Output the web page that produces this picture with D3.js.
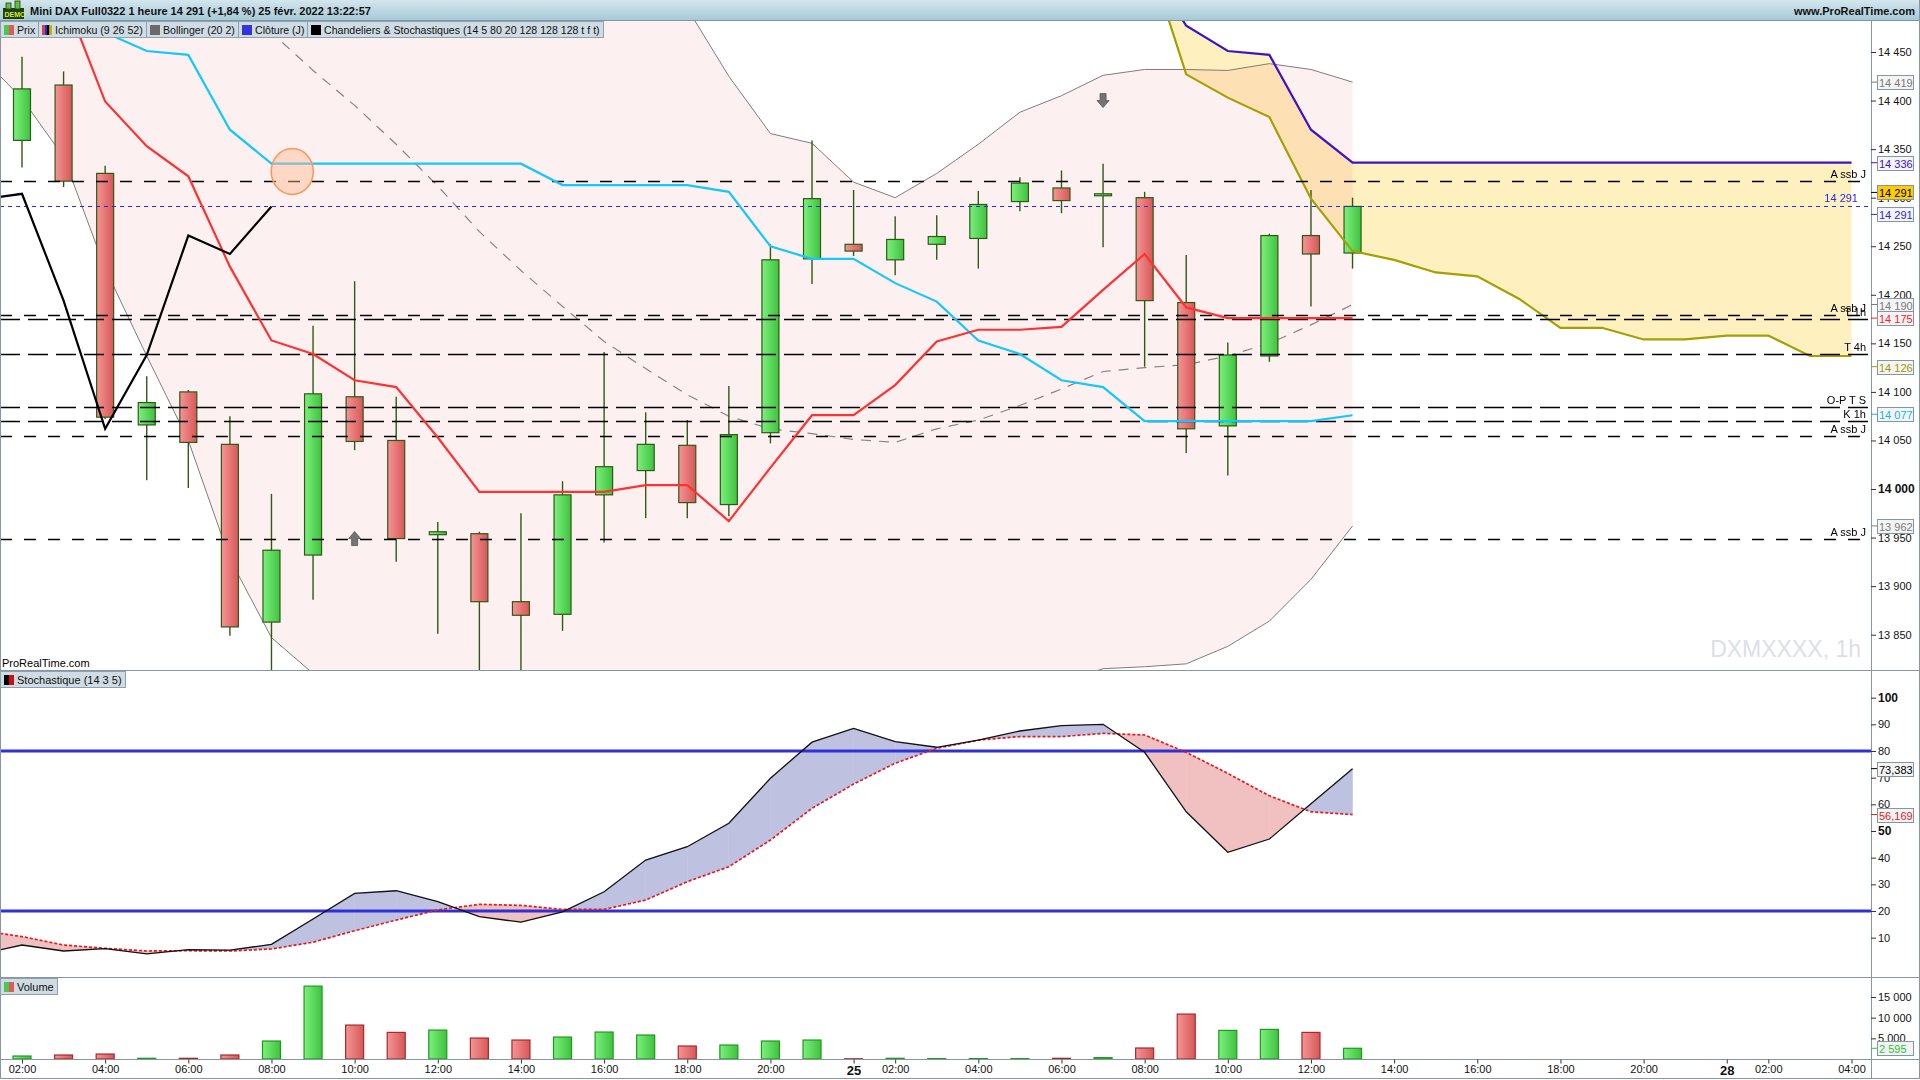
<!DOCTYPE html>
<html>
<head>
<meta charset="utf-8">
<script src="https://cdn.jsdelivr.net/npm/d3@7"></script>
<style>
  body { margin: 0; background: #fff; overflow: hidden; }
  text { font-family: "Liberation Sans", Arial, sans-serif; }
</style>
</head>
<body>
<script>
// hourly slots: index 0 = 24 feb 01:00 (off-screen), 33 = 25 feb 13:00 (last candle)
const hours = [
  "24", "02:00", "03:00", "04:00", "05:00", "06:00", "07:00", "08:00", "09:00", "10:00", "11:00",
  "12:00", "13:00", "14:00", "15:00", "16:00", "17:00", "18:00", "19:00", "20:00", "21:00",
  "25", "02:00", "03:00", "04:00", "05:00", "06:00", "07:00", "08:00", "09:00", "10:00", "11:00",
  "12:00", "13:00", "14:00", "15:00", "16:00", "17:00", "18:00", "19:00", "20:00", "21:00",
  "28", "02:00", "03:00", "04:00"
];

// candles (index 0 has no candle on screen)
const open  = [null, 14359, 14416, 14325, 14066, 14100, 14046, 13863, 13932, 14095, 14050, 13953, 13954, 13884, 13871, 13994, 14019, 14045, 13984, 14058, 14237, 14252, 14236, 14252, 14258, 14296, 14310, 14302, 14300, 14192, 14065, 14137, 14261, 14243];
const high  = [null, 14445, 14430, 14333, 14116, 14102, 14075, 13995, 14168, 14214, 14095, 13966, 13956, 13975, 14008, 14141, 14079, 14071, 14106, 14252, 14359, 14308, 14281, 14282, 14307, 14321, 14328, 14335, 14306, 14241, 14151, 14263, 14308, 14300];
const low   = [null, 14331, 14311, 14072, 14009, 14001, 13849, 13805, 13886, 14040, 13925, 13851, 13805, 13805, 13854, 13945, 13970, 13970, 13972, 14047, 14211, 14240, 14220, 14236, 14227, 14286, 14284, 14249, 14126, 14037, 14014, 14131, 14188, 14227];
const close = [null, 14412, 14317, 14074, 14089, 14048, 13858, 13937, 14098, 14049, 13949, 13956, 13884, 13870, 13994, 14023, 14046, 13986, 14056, 14236, 14299, 14245, 14257, 14260, 14293, 14315, 14297, 14304, 14194, 14062, 14138, 14261, 14242, 14291];
const volume = [null, 720, 970, 1200, 170, 170, 970, 4350, 17630, 8210, 6440, 7000, 5070, 4590, 5310, 6520, 5800, 3140, 3380, 4350, 4590, 50, 170, 100, 100, 100, 170, 330, 2660, 10870, 6920, 7160, 6440, 2595];

// Ichimoku (9 26 52)
const tenkan = [14540, 14509, 14399, 14353, 14322, 14229, 14153, 14139, 14112, 14105, 14053, 13997, 13997, 13997, 13997, 14004, 14004, 13967, 14022, 14076, 14076, 14107, 14152, 14164, 14164, 14167, 14205, 14242, 14187, 14176, 14176, 14176, 14176];
const tenkanFrom = 1;
const kijun = [14520, 14495, 14470, 14451, 14447, 14370, 14335, 14335, 14335, 14335, 14335, 14335, 14335, 14313, 14313, 14313, 14313, 14306, 14250, 14237, 14237, 14212, 14193, 14153, 14139, 14112, 14105, 14070, 14070, 14070, 14070, 14070, 14076];
const kijunFrom = 1;
const chikou = [14298, 14304, 14194, 14062, 14138, 14261, 14242, 14291];
const chikouFrom = 0;
const senkouA = [14560, 14427, 14403, 14383, 14299, 14245, 14236, 14223, 14219, 14196, 14166, 14166, 14154, 14154, 14158, 14158, 14137, 14137];
const senkouB = [14545, 14477, 14451, 14447, 14370, 14336, 14336, 14336, 14336, 14336, 14336, 14336, 14336, 14336, 14336, 14336, 14336, 14336];
const cloudFrom = 28;

// Bollinger (20 2)
const bbUpper = [14700, 14720, 14760, 14850, 14910, 14970, 15050, 15090, 15050, 15020, 14970, 14900, 14830, 14760, 14690, 14610, 14550, 14495, 14425, 14366, 14356, 14316, 14300, 14325, 14355, 14388, 14405, 14426, 14432, 14432, 14431, 14438, 14432, 14419];
const bbMid   = [14575, 14560, 14550, 14540, 14525, 14510, 14490, 14470, 14431, 14395, 14355, 14312, 14265, 14225, 14188, 14152, 14124, 14097, 14075, 14062, 14057, 14051, 14048, 14062, 14071, 14086, 14103, 14121, 14125, 14128, 14137, 14150, 14169, 14190];
const bbLower = [14446, 14402, 14342, 14227, 14137, 14050, 13928, 13847, 13810, 13770, 13740, 13720, 13700, 13690, 13690, 13695, 13700, 13700, 13725, 13758, 13758, 13786, 13796, 13799, 13787, 13784, 13801, 13815, 13817, 13820, 13838, 13864, 13907, 13962];

// Stochastique (14 3 5)
const stochK = [3.8, 7.25, 5.0, 5.9, 3.9, 5.5, 5.3, 7.5, 17.0, 26.6, 27.6, 23.5, 17.9, 15.8, 19.7, 27.2, 39.1, 44.1, 52.9, 69.8, 83.3, 88.5, 83.5, 81.4, 84.1, 87.5, 89.5, 90.0, 79.5, 57.2, 42.0, 47.0, 60.2, 73.383];
const stochD = [12.7, 10.4, 7.25, 6.0, 5.0, 5.1, 5.0, 5.75, 8.3, 12.6, 16.6, 20.4, 22.5, 22.1, 20.6, 20.6, 24.1, 31.0, 36.6, 46.6, 58.5, 67.6, 75.4, 81.0, 84.1, 85.4, 85.4, 86.6, 86.0, 79.5, 71.6, 63.2, 57.2, 56.169];

// horizontal levels
const levelNames  = ["A ssb J", "A ssb J", "T 1h", "T 4h", "O-P T S", "K 1h", "A ssb J", "A ssb J"];
const levelValues = [14317, 14179, 14175, 14139, 14084, 14070, 14055, 13949];
const dailyClose = 14291;

// signals
const signalHours  = [9, 27];
const signalPrices = [13949, 14400];
const signalDirs   = ["up", "down"];
const circleHour = 7.5, circlePrice = 14327;

const W = 1920, H = 1080;
const axisX = 1871;
const mainTop = 21, mainBot = 670, stTop = 671, stBot = 977, vTop = 978, vBot = 1059;

const loc = d3.formatLocale({decimal: ",", thousands: " ", grouping: [3], currency: ["", " €"]});
const fmtInt = loc.format(",d");
const fmt3 = loc.format(".3f");

const x = d3.scaleLinear().domain([1, 45]).range([22, 1851.5]);
const yP = d3.scaleLinear().domain([13850, 14450]).range([634.7, 52]);
const yS = d3.scaleLinear().domain([20, 80]).range([911, 751]);
const yV = d3.scaleLinear().domain([0, 15000]).range([1059, 997]);

const svg = d3.select("body").append("svg").attr("width", W).attr("height", H);
const defs = svg.append("defs");

function grad(id, c1, c2, vertical) {
  const g = defs.append("linearGradient").attr("id", id)
    .attr("x1", 0).attr("y1", 0).attr("x2", vertical ? 0 : 1).attr("y2", vertical ? 1 : 0);
  g.append("stop").attr("offset", "0%").attr("stop-color", c1);
  g.append("stop").attr("offset", "100%").attr("stop-color", c2);
}
grad("gUp", "#7cf07c", "#3fc23f");
grad("gDn", "#f69494", "#d65858");
grad("gHdr", "#d3e6ee", "#a6c8d6", true);

function clip(id, y0, y1) {
  defs.append("clipPath").attr("id", id).append("rect")
    .attr("x", 0).attr("y", y0).attr("width", axisX).attr("height", y1 - y0);
}
clip("cMain", mainTop, mainBot);
clip("cStoch", stTop, stBot);
clip("cVol", vTop, vBot);

const pts = (vals, from) => vals.map((v, i) => [from + i, v]).filter(d => d[1] != null);
const lineP = d3.line().x(d => x(d[0])).y(d => yP(d[1]));
const lineS = d3.line().x(d => x(d[0])).y(d => yS(d[1]));

// ---------- header ----------
svg.append("rect").attr("x", 0).attr("y", 0).attr("width", W).attr("height", mainTop).attr("fill", "url(#gHdr)");
svg.append("line").attr("x1", 0).attr("x2", W).attr("y1", mainTop - 0.5).attr("y2", mainTop - 0.5).attr("stroke", "#7d97a6");
const icon = svg.append("g");
icon.append("rect").attr("x", 3).attr("y", 8).attr("width", 21).attr("height", 11).attr("fill", "#22400f");
icon.append("rect").attr("x", 6).attr("y", 3).attr("width", 5).attr("height", 6).attr("fill", "#5fc23a").attr("stroke", "#22400f").attr("stroke-width", 0.8);
icon.append("rect").attr("x", 15).attr("y", 1).attr("width", 5).attr("height", 8).attr("fill", "#5fc23a").attr("stroke", "#22400f").attr("stroke-width", 0.8);
icon.append("text").attr("x", 4.5).attr("y", 17).attr("font-size", 7).attr("font-weight", "bold").attr("fill", "#d4ec3c").text("DEMO");
svg.append("text").attr("x", 30).attr("y", 15).attr("font-size", 11).attr("font-weight", "bold").attr("fill", "#111")
  .text("Mini DAX Full0322 1 heure 14 291 (+1,84 %) 25 févr. 2022 13:22:57");
svg.append("text").attr("x", 1915).attr("y", 15).attr("font-size", 11).attr("font-weight", "bold").attr("fill", "#111")
  .attr("text-anchor", "end").text("www.ProRealTime.com");

// ---------- main price panel ----------
const gm = svg.append("g").attr("clip-path", "url(#cMain)");

// Bollinger band fill
const bb = bbUpper.map((u, i) => ({k: i, hi: u, lo: bbLower[i]}));
gm.append("path").datum(bb).attr("fill", "#fdf0f0")
  .attr("d", d3.area().x(d => x(d.k)).y0(d => yP(d.lo)).y1(d => yP(d.hi)));

// Ichimoku cloud
const cloud = senkouA.map((a, i) => ({k: cloudFrom + i, a: a, b: senkouB[i]}));
gm.append("path").datum(cloud).attr("fill", "#fff0c0").style("mix-blend-mode", "multiply")
  .attr("d", d3.area().x(d => x(d.k)).y0(d => yP(d.a)).y1(d => yP(d.b)));

// Bollinger lines
gm.append("path").datum(pts(bbUpper, 0)).attr("d", lineP).attr("fill", "none").attr("stroke", "#7d7d7d").attr("stroke-width", 1);
gm.append("path").datum(pts(bbLower, 0)).attr("d", lineP).attr("fill", "none").attr("stroke", "#7d7d7d").attr("stroke-width", 1);
gm.append("path").datum(pts(bbMid, 0)).attr("d", lineP).attr("fill", "none").attr("stroke", "#858585").attr("stroke-width", 1.2).attr("stroke-dasharray", "10,8");

// candles
const cIdx = d3.range(0, close.length).filter(k => close[k] != null);
gm.selectAll("line.wick").data(cIdx).join("line").attr("class", "wick")
  .attr("x1", k => x(k)).attr("x2", k => x(k))
  .attr("y1", k => yP(high[k])).attr("y2", k => yP(low[k]))
  .attr("stroke", "#2e5a14").attr("stroke-width", 1.4);
gm.selectAll("rect.body").data(cIdx).join("rect").attr("class", "body")
  .attr("x", k => x(k) - 8.5).attr("width", 17)
  .attr("y", k => yP(Math.max(open[k], close[k])))
  .attr("height", k => Math.max(2, Math.abs(yP(open[k]) - yP(close[k]))))
  .attr("fill", k => close[k] >= open[k] ? "url(#gUp)" : "url(#gDn)")
  .attr("stroke", "#2e5a14").attr("stroke-width", 1.2);

// cloud edges
gm.append("path").datum(pts(senkouA, cloudFrom)).attr("d", lineP).attr("fill", "none").attr("stroke", "#a3a000").attr("stroke-width", 2.2);
gm.append("path").datum(pts(senkouB, cloudFrom)).attr("d", lineP).attr("fill", "none").attr("stroke", "#3a14c8").attr("stroke-width", 2.2);

// horizontal levels
levelNames.forEach((name, i) => {
  const y = Math.round(yP(levelValues[i])) + 0.5;
  gm.append("line").attr("x1", 0).attr("x2", name === "A ssb J" ? 1862 : axisX).attr("y1", y).attr("y2", y)
    .attr("stroke", "#000").attr("stroke-width", 1.3)
    .attr("stroke-dasharray", name === "A ssb J" ? "12,12" : "20,8");
  gm.append("text").attr("x", 1866).attr("y", y - 4).attr("text-anchor", "end")
    .attr("font-size", 11).attr("fill", "#000").text(name);
});
const yC = Math.round(yP(dailyClose)) + 0.5;
gm.append("line").attr("x1", 0).attr("x2", axisX).attr("y1", yC).attr("y2", yC)
  .attr("stroke", "#2a2ae0").attr("stroke-width", 1.2).attr("stroke-dasharray", "4,4");
gm.append("text").attr("x", 1858).attr("y", yC - 5).attr("text-anchor", "end")
  .attr("font-size", 11).attr("fill", "#2a2ae0").text(fmtInt(dailyClose));

// Ichimoku lines
gm.append("path").datum(pts(kijun, kijunFrom)).attr("d", lineP).attr("fill", "none").attr("stroke", "#12c8ff").attr("stroke-width", 2.2);
gm.append("path").datum(pts(tenkan, tenkanFrom)).attr("d", lineP).attr("fill", "none").attr("stroke", "#ff3232").attr("stroke-width", 2.2);
gm.append("path").datum(pts(chikou, chikouFrom)).attr("d", lineP).attr("fill", "none").attr("stroke", "#000").attr("stroke-width", 2.2);

// marker circle and arrows
gm.append("ellipse").attr("cx", x(circleHour)).attr("cy", yP(circlePrice)).attr("rx", 21).attr("ry", 23)
  .attr("fill", "#ffb890").attr("fill-opacity", 0.45).attr("stroke", "#ff9558").attr("stroke-width", 1.5);
signalHours.forEach((k, i) => {
  const s = signalDirs[i] === "up" ? 1 : -1;
  const cx = x(k), cy = yP(signalPrices[i]);
  const p = [[-6, 0], [0, -7], [6, 0], [3, 0], [3, 7], [-3, 7], [-3, 0]]
    .map(d => [cx + d[0], cy + s * d[1]]);
  gm.append("path").attr("d", d3.line()(p) + "Z").attr("fill", "#747474").attr("stroke", "#555").attr("stroke-width", 0.8);
});

svg.append("text").attr("x", 2).attr("y", 667).attr("font-size", 11).attr("fill", "#000").text("ProRealTime.com");
svg.append("text").attr("x", 1861).attr("y", 657).attr("text-anchor", "end").attr("font-size", 23)
  .attr("fill", "#dcdfe8").text("DXMXXXX, 1h");

// ---------- stochastic panel ----------
const gs = svg.append("g").attr("clip-path", "url(#cStoch)");
const polys = [];
for (let i = 0; i < stochK.length - 1; i++) {
  const a0 = stochK[i], a1 = stochK[i + 1], b0 = stochD[i], b1 = stochD[i + 1];
  const d0 = a0 - b0, d1 = a1 - b1;
  if (d0 * d1 >= 0) {
    polys.push({up: d0 + d1 >= 0, p: [[i, a0], [i + 1, a1], [i + 1, b1], [i, b0]]});
  } else {
    const t = d0 / (d0 - d1), vc = a0 + t * (a1 - a0);
    polys.push({up: d0 > 0, p: [[i, a0], [i + t, vc], [i, b0]]});
    polys.push({up: d1 > 0, p: [[i + t, vc], [i + 1, a1], [i + 1, b1]]});
  }
}
gs.selectAll("path.fill").data(polys).join("path").attr("class", "fill")
  .attr("d", d => lineS(d.p) + "Z").attr("fill", d => d.up ? "#bfc1e1" : "#f1c0c0")
  .attr("stroke", d => d.up ? "#bfc1e1" : "#f1c0c0").attr("stroke-width", 0.5);
[80, 20].forEach(v => {
  gs.append("line").attr("x1", 0).attr("x2", axisX).attr("y1", yS(v)).attr("y2", yS(v))
    .attr("stroke", "#3030d8").attr("stroke-width", 3);
});
gs.append("path").datum(pts(stochD, 0)).attr("d", lineS).attr("fill", "none")
  .attr("stroke", "#e01c1c").attr("stroke-width", 1.7).attr("stroke-dasharray", "3,2");
gs.append("path").datum(pts(stochK, 0)).attr("d", lineS).attr("fill", "none")
  .attr("stroke", "#111").attr("stroke-width", 1.3);

// ---------- volume panel ----------
const gv = svg.append("g").attr("clip-path", "url(#cVol)");
const vIdx = d3.range(0, volume.length).filter(k => volume[k] != null);
gv.selectAll("rect.vol").data(vIdx).join("rect").attr("class", "vol")
  .attr("x", k => x(k) - 9).attr("width", 18)
  .attr("y", k => yV(volume[k])).attr("height", k => Math.max(1, yV(0) - yV(volume[k])))
  .attr("fill", k => close[k] >= open[k] ? "url(#gUp)" : "url(#gDn)")
  .attr("stroke", k => close[k] >= open[k] ? "#1c9a1c" : "#a82828").attr("stroke-width", 1.2);

// ---------- frames ----------
const frame = "#8597a3";
[mainBot + 0.5, stBot + 0.5, vBot + 0.5, 1078.5].forEach(y => {
  svg.append("line").attr("x1", 0).attr("x2", W).attr("y1", y).attr("y2", y).attr("stroke", frame);
});
svg.append("line").attr("x1", axisX + 0.5).attr("x2", axisX + 0.5).attr("y1", mainTop).attr("y2", 1078)
  .attr("stroke", frame);
svg.append("line").attr("x1", 0.5).attr("x2", 0.5).attr("y1", mainTop).attr("y2", 1078).attr("stroke", frame);
svg.append("line").attr("x1", W - 0.5).attr("x2", W - 0.5).attr("y1", 0).attr("y2", 1078).attr("stroke", frame);

// ---------- axes ----------
function styleAxis(g, boldSet) {
  g.attr("font-family", "Liberation Sans, Arial, sans-serif").attr("font-size", 11);
  g.select(".domain").remove();
  g.selectAll(".tick line").attr("stroke", "#333");
  g.selectAll(".tick text").attr("fill", "#111")
    .attr("font-weight", d => boldSet.includes(d) ? "bold" : null)
    .attr("font-size", d => boldSet.includes(d) ? 12 : 11);
}
const ax1 = svg.append("g").attr("transform", `translate(${axisX},0)`)
  .call(d3.axisRight(yP).tickValues(d3.range(13850, 14451, 50)).tickSize(5).tickPadding(2).tickFormat(fmtInt));
styleAxis(ax1, [14000]);
const ax2 = svg.append("g").attr("transform", `translate(${axisX},0)`)
  .call(d3.axisRight(yS).tickValues(d3.range(10, 101, 10)).tickSize(5).tickPadding(2));
styleAxis(ax2, [50, 100]);
const ax3 = svg.append("g").attr("transform", `translate(${axisX},0)`)
  .call(d3.axisRight(yV).tickValues([5000, 10000, 15000]).tickSize(5).tickPadding(2).tickFormat(fmtInt));
styleAxis(ax3, []);
const tickIdx = d3.range(1, hours.length).filter(k => hours[k].length === 2 || (+hours[k].slice(0, 2)) % 2 === 0);
const ax4 = svg.append("g").attr("transform", `translate(0,${vBot + 0.5})`)
  .call(d3.axisBottom(x).tickValues(tickIdx).tickSize(4).tickPadding(2).tickFormat(k => hours[k]));
styleAxis(ax4, []);
ax4.selectAll(".tick text").filter(k => hours[k].length === 2).attr("font-weight", "bold").attr("font-size", 13);

// value tags on the right axis
function tag(y, text, color, fill) {
  svg.append("line").attr("x1", axisX).attr("x2", 1877).attr("y1", y).attr("y2", y).attr("stroke", color);
  svg.append("rect").attr("x", 1877.5).attr("y", Math.round(y) - 6.5).attr("width", 36).attr("height", 14)
    .attr("fill", fill).attr("stroke", "#8296a4");
  svg.append("text").attr("x", 1879).attr("y", Math.round(y) + 4.5).attr("font-size", 11).attr("fill", color).text(text);
}
tag(yP(bbUpper[33]), fmtInt(bbUpper[33]), "#7a7a7a", "#f4f4f4");
tag(yP(senkouB[senkouB.length - 1]), fmtInt(senkouB[senkouB.length - 1]), "#3a14c8", "#f4f4f4");
tag(yP(close[33]) - 14, fmtInt(close[33]), "#000", "#ffcc00");
tag(yP(dailyClose) + 8, fmtInt(dailyClose), "#2a2ae0", "#f4f4f4");
tag(yP(bbMid[33]), fmtInt(bbMid[33]), "#7a7a7a", "#f4f4f4");
tag(yP(tenkan[tenkan.length - 1]), fmtInt(14175), "#ff2020", "#f4f4f4");
tag(yP(14126), fmtInt(14126), "#9a9a00", "#f4f4f4");
tag(yP(14077), fmtInt(14077), "#10b4f0", "#f4f4f4");
tag(yP(bbLower[33]), fmtInt(bbLower[33]), "#7a7a7a", "#f4f4f4");
tag(yS(stochK[33]), fmt3(stochK[33]), "#000", "#f4f4f4");
tag(yS(stochD[33]), fmt3(stochD[33]), "#e01c1c", "#f4f4f4");
tag(yV(volume[33]), fmtInt(volume[33]), "#30c030", "#f4f4f4");

// ---------- legend boxes ----------
function legend(items, y0, fs) {
  let cx = 0;
  items.forEach(it => {
    const g = svg.append("g");
    const t = g.append("text").attr("x", cx + 17).attr("y", y0 + 12.5).attr("font-size", fs).attr("fill", "#111").text(it.label);
    const w = Math.round(t.node().getComputedTextLength() + 20);
    g.insert("rect", "text").attr("x", cx + 0.5).attr("y", y0 + 0.5).attr("width", w).attr("height", 16)
      .attr("fill", "#cfdce3").attr("stroke", "#8ea2ae");
    const cw = 10 / it.colors.length;
    it.colors.forEach((c, j) => {
      g.append("rect").attr("x", cx + 4 + j * cw).attr("y", y0 + 4).attr("width", cw).attr("height", 10).attr("fill", c);
    });
    cx += w;
  });
}
legend([
  {label: "Prix", colors: ["#4cc84c", "#e05a5a"]},
  {label: "Ichimoku (9 26 52)", colors: ["#ff3030", "#2030d0", "#000", "#c8b400"]},
  {label: "Bollinger (20 2)", colors: ["#6a6a6a"]},
  {label: "Clôture (J)", colors: ["#3434dc"]},
  {label: "Chandeliers & Stochastiques (14 5 80 20 128 128 128 t f t)", colors: ["#000"]}
], mainTop, 10.6);
legend([{label: "Stochastique (14 3 5)", colors: ["#000", "#d01010"]}], stTop, 11);
legend([{label: "Volume", colors: ["#4cc84c", "#e05a5a"]}], vTop, 11);
</script>
</body>
</html>
